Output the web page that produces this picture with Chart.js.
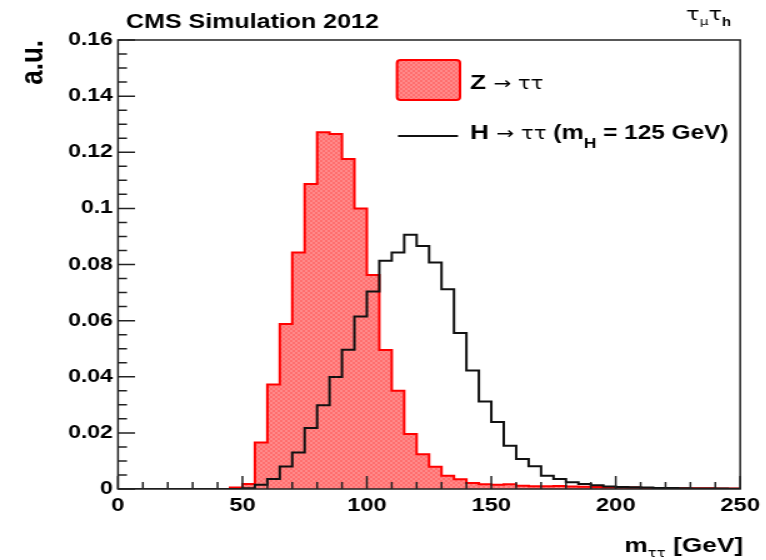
<!DOCTYPE html>
<html>
<head>
<meta charset="utf-8">
<script src="https://cdn.jsdelivr.net/npm/chart.js@4.4.1/dist/chart.umd.min.js"></script>
<style>
  html, body { margin: 0; padding: 0; background: #fff; overflow: hidden; }
  /* the plot is drawn narrow and stretched sideways, like the ROOT canvas it copies */
  #wrap { width: 613px; height: 560px; transform: scaleX(1.25); transform-origin: 0 0; }
</style>
</head>
<body>
<div id="wrap"><canvas id="massChart" width="613" height="560"></canvas></div>
<script>
const SX = 1.25; // horizontal stretch of #wrap

// 5 GeV bins from 0 to 250
const binEdges = [0, 5, 10, 15, 20, 25, 30, 35, 40, 45, 50, 55, 60, 65, 70, 75, 80, 85, 90, 95,
  100, 105, 110, 115, 120, 125, 130, 135, 140, 145, 150, 155, 160, 165, 170, 175, 180, 185, 190, 195,
  200, 205, 210, 215, 220, 225, 230, 235, 240, 245, 250];

// Z -> tautau (normalised)
const zTauTau = [0, 0, 0, 0, 0, 0, 0, 0, 0, 0.0005,
  0.0018, 0.0166, 0.0372, 0.0588, 0.0843, 0.1087, 0.1271, 0.1265, 0.1176, 0.1000,
  0.0763, 0.0495, 0.0350, 0.0196, 0.0124, 0.0079, 0.0047, 0.0035, 0.0021, 0.0017,
  0.0015, 0.0017, 0.0012, 0.0010, 0.0010, 0.0011, 0.0009, 0.0008, 0.0007, 0.0006,
  0.0005, 0.0005, 0.0004, 0.0004, 0.0004, 0.0003, 0.0003, 0.0003, 0.0002, 0.0002];

// H -> tautau, mH = 125 GeV (normalised)
const hTauTau = [0, 0, 0, 0, 0, 0, 0, 0, 0, 0,
  0.0003, 0.0015, 0.0036, 0.0080, 0.0130, 0.0217, 0.0298, 0.0399, 0.0496, 0.0615,
  0.0704, 0.0813, 0.0843, 0.0906, 0.0866, 0.0807, 0.0712, 0.0556, 0.0422, 0.0312,
  0.0239, 0.0154, 0.0107, 0.0081, 0.0047, 0.0036, 0.0024, 0.0018, 0.0013, 0.0009,
  0.0007, 0.0006, 0.0005, 0.0004, 0.0004, 0.0003, 0.0002, 0.0002, 0.0002, 0.0001];

const xTickLabels = ['0', '50', '100', '150', '200', '250'];
const yTickLabels = ['0', '0.02', '0.04', '0.06', '0.08', '0.1', '0.12', '0.14', '0.16'];

const SANS = '"Liberation Sans", Arial, Helvetica, sans-serif';
const SYMF = '"DejaVu Sans", sans-serif';

// turn bin contents into step points (value held until the next edge)
function histPoints(values) {
  const pts = values.map((v, i) => ({ x: binEdges[i], y: v }));
  pts.push({ x: binEdges[values.length], y: values[values.length - 1] });
  return pts;
}

// small checker pattern for the filled histogram
function makeFill(ctx) {
  const c = document.createElement('canvas');
  c.width = 4; c.height = 4;
  const g = c.getContext('2d');
  g.fillStyle = '#ff8a8a';
  g.fillRect(0, 0, 4, 4);
  g.fillStyle = '#ff6e6e';
  g.fillRect(0, 0, 2, 2);
  g.fillRect(2, 2, 2, 2);
  return ctx.createPattern(c, 'repeat');
}

// draw a row of text pieces with different fonts / offsets
function drawRich(ctx, x, y, parts) {
  parts.forEach(p => {
    ctx.font = p.font;
    ctx.fillText(p.t, x, y + (p.dy || 0));
    x += ctx.measureText(p.t).width;
  });
  return x;
}
function richWidth(ctx, parts) {
  let w = 0;
  parts.forEach(p => { ctx.font = p.font; w += ctx.measureText(p.t).width; });
  return w;
}

// frame and inward tick marks
const frameTicks = {
  id: 'frameTicks',
  afterDatasetsDraw(chart) {
    const { ctx, chartArea: a, scales: { x, y } } = chart;
    ctx.save();
    ctx.strokeStyle = '#222';
    ctx.lineWidth = 1.5;
    ctx.beginPath();
    for (let v = 0; v <= 250; v += 10) {
      const px = x.getPixelForValue(v);
      const len = v % 50 === 0 ? 13 : 7;
      ctx.moveTo(px, a.bottom);
      ctx.lineTo(px, a.bottom - len);
    }
    for (let k = 0; k <= 32; k++) {
      const py = y.getPixelForValue(k * 0.005);
      const len = (k % 4 === 0 ? 17 : 9) / SX;
      ctx.moveTo(a.left, py);
      ctx.lineTo(a.left + len, py);
    }
    ctx.stroke();
    ctx.strokeRect(a.left, a.top, a.right - a.left, a.bottom - a.top);
    ctx.restore();
  }
};

// titles, axis titles and the legend
const labels = {
  id: 'labels',
  afterDraw(chart) {
    const ctx = chart.ctx;
    ctx.save();
    ctx.fillStyle = '#000';
    ctx.textBaseline = 'alphabetic';
    ctx.textAlign = 'left';

    ctx.font = 'bold 20px ' + SANS;
    ctx.fillText('CMS Simulation 2012', 126 / SX, 28);

    drawRich(ctx, 686 / SX, 20, [
      { t: 'τ', font: '18px ' + SYMF },
      { t: 'μ', font: '11px ' + SYMF, dy: 5 },
      { t: 'τ', font: '18px ' + SYMF },
      { t: 'h', font: 'bold 12px ' + SANS, dy: 6 }
    ]);

    // x axis title, right aligned to the frame
    const xt = [
      { t: 'm', font: 'bold 21px ' + SANS },
      { t: 'ττ', font: '12px ' + SYMF, dy: 5 },
      { t: ' [GeV]', font: 'bold 21px ' + SANS }
    ];
    drawRich(ctx, 743 / SX - richWidth(ctx, xt), 552, xt);

    // y axis title
    ctx.save();
    ctx.translate(43 / SX, 40);
    ctx.rotate(-Math.PI / 2);
    ctx.textAlign = 'right';
    ctx.font = 'bold 26px ' + SANS;
    ctx.fillText('a.u.', 0, 0);
    ctx.restore();

    // legend: filled box for Z, line for H
    const bx = 397 / SX, bw = 63 / SX, by = 60, bh = 40;
    ctx.fillStyle = chart.data.datasets[0].backgroundColor;
    ctx.strokeStyle = '#ff0000';
    ctx.lineWidth = 2;
    ctx.beginPath();
    ctx.roundRect(bx, by, bw, bh, 3);
    ctx.fill();
    ctx.stroke();

    ctx.strokeStyle = '#111';
    ctx.lineWidth = 2;
    ctx.beginPath();
    ctx.moveTo(398 / SX, 136);
    ctx.lineTo(458 / SX, 136);
    ctx.stroke();

    ctx.fillStyle = '#000';
    drawRich(ctx, 470 / SX, 89, [
      { t: 'Z ', font: 'bold 21px ' + SANS },
      { t: '→ ', font: '17px ' + SYMF },
      { t: 'ττ', font: '17px ' + SYMF }
    ]);
    drawRich(ctx, 470 / SX, 139, [
      { t: 'H ', font: 'bold 21px ' + SANS },
      { t: '→ ', font: '17px ' + SYMF },
      { t: 'ττ ', font: '17px ' + SYMF },
      { t: '(m', font: 'bold 20px ' + SANS },
      { t: 'H', font: 'bold 14px ' + SANS, dy: 9 },
      { t: ' = 125 GeV)', font: 'bold 19.5px ' + SANS }
    ]);
    ctx.restore();
  }
};

const canvas = document.getElementById('massChart');
const ctx = canvas.getContext('2d');

new Chart(ctx, {
  type: 'line',
  data: {
    datasets: [
      {
        label: 'Z → ττ',
        data: histPoints(zTauTau),
        stepped: 'before',
        borderColor: '#ff0000',
        borderWidth: 2,
        backgroundColor: makeFill(ctx),
        fill: 'origin',
        pointRadius: 0,
        order: 1
      },
      {
        label: 'H → ττ (mH = 125 GeV)',
        data: histPoints(hTauTau),
        stepped: 'before',
        borderColor: '#111',
        borderWidth: 2,
        fill: false,
        pointRadius: 0,
        order: 0
      }
    ]
  },
  options: {
    responsive: false,
    animation: false,
    devicePixelRatio: 1,
    layout: { padding: { top: 40, right: 17, left: 0, bottom: 0 } },
    plugins: {
      legend: { display: false },
      tooltip: { enabled: false }
    },
    scales: {
      x: {
        type: 'linear',
        min: 0,
        max: 250,
        grid: { display: false, drawTicks: false },
        border: { display: false },
        ticks: {
          stepSize: 50,
          padding: 5,
          color: '#000',
          maxRotation: 0,
          font: { family: SANS, size: 19, weight: 'bold' },
          callback: (v, i) => xTickLabels[i]
        },
        afterFit: s => { s.height = 560 - 489; }
      },
      y: {
        min: 0,
        max: 0.16,
        grid: { display: false, drawTicks: false },
        border: { display: false },
        ticks: {
          stepSize: 0.02,
          padding: 4,
          color: '#000',
          font: { family: SANS, size: 18.5, weight: 'bold' },
          callback: (v, i) => yTickLabels[i]
        },
        afterFit: s => { s.width = 118 / SX; }
      }
    }
  },
  plugins: [frameTicks, labels]
});
</script>
</body>
</html>
